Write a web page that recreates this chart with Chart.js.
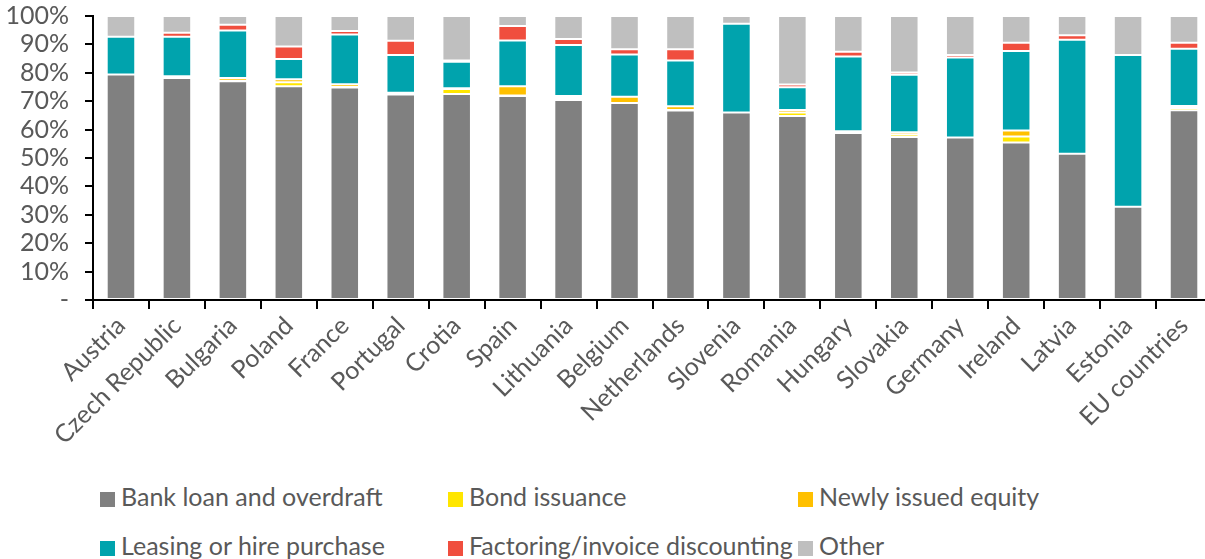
<!DOCTYPE html>
<html>
<head>
<meta charset="utf-8">
<script src="https://cdn.jsdelivr.net/npm/chart.js@4.4.0/dist/chart.umd.min.js"></script>
<style>
  html, body { margin: 0; padding: 0; background: #fff; overflow: hidden; }
  #wrap { position: absolute; left: 0; top: -15px; width: 1212px; height: 470px; }
  .legend { position: absolute; font-family: Lato, "Open Sans", sans-serif; font-size: 25px; color: #595959; white-space: nowrap; line-height: 30px; }
  .legend span.box { display: inline-block; width: 15px; height: 15px; margin-right: 6px; vertical-align: -1px; }
</style>
</head>
<body>
<div id="wrap"><canvas id="chart"></canvas></div>
<div id="legend"></div>
<script>
/* ── Datos ────────────────────────────────────── */
const countries = ["Austria", "Czech Republic", "Bulgaria", "Poland", "France", "Portugal", "Crotia", "Spain",
  "Lithuania", "Belgium", "Netherlands", "Slovenia", "Romania", "Hungary", "Slovakia", "Germany",
  "Ireland", "Latvia", "Estonia", "EU countries"];

const bankLoan  = [79.4, 78.2, 77.0, 75.3, 74.8, 72.4, 72.5, 71.8, 70.4, 69.4, 66.7, 66.0, 64.8, 58.8, 57.4, 57.2, 55.5, 51.5, 32.8, 66.8];
const bond      = [0.0, 0.3, 0.2, 1.4, 0.2, 0.3, 1.8, 0.2, 0.7, 0.0, 0.2, 0.0, 1.2, 0.0, 0.9, 0.0, 2.1, 0.0, 0.0, 0.8];
const equity    = [0.0, 0.3, 1.0, 1.0, 1.0, 0.3, 0.3, 3.3, 0.7, 2.2, 1.3, 0.0, 0.9, 0.6, 0.8, 0.0, 2.1, 0.0, 0.0, 0.7];
const leasing   = [13.3, 13.9, 16.7, 7.2, 17.5, 13.3, 9.3, 16.1, 18.0, 14.8, 16.1, 31.3, 8.0, 26.3, 20.2, 28.2, 28.0, 40.1, 53.5, 20.2];
const factoring = [0.0, 1.4, 2.0, 4.4, 1.2, 5.0, 0.4, 5.1, 2.1, 1.9, 4.0, 0.0, 1.0, 1.7, 0.8, 0.9, 2.9, 1.6, 0.0, 2.1];
const other     = [7.3, 5.9, 3.1, 10.7, 5.3, 8.7, 15.7, 3.5, 8.1, 11.7, 11.7, 2.7, 24.1, 12.6, 19.9, 13.7, 9.4, 6.8, 13.7, 9.4];

const yTicks = [0, 10, 20, 30, 40, 50, 60, 70, 80, 90, 100];

/* ── Series ───────────────────────────────────── */
const series = [
  { label: "Bank loan and overdraft",       data: bankLoan,  color: "#808080" },
  { label: "Bond issuance",                 data: bond,      color: "#FFE600" },
  { label: "Newly issued equity",           data: equity,    color: "#FFC000" },
  { label: "Leasing or hire purchase",      data: leasing,   color: "#00A3AD" },
  { label: "Factoring/invoice discounting", data: factoring, color: "#F04E3E" },
  { label: "Other",                         data: other,     color: "#BFBFBF" },
];

const FONT = "Lato, 'Open Sans', sans-serif";
const TEXT = "#595959";
const X_SCALE_H = 155;   // plot bottom ends at y=300 on the page
const PLOT_LEFT = 93;

const ctx = document.getElementById("chart").getContext("2d");
const chart = new Chart(ctx, {
  type: "bar",
  data: {
    labels: countries,
    datasets: series.map((s) => ({
      label: s.label,
      data: s.data,
      backgroundColor: s.color,
      borderColor: "rgba(255,255,255,0.25)",
      borderWidth: 1,
      borderSkipped: false,
      stack: "s",
      barPercentage: 0.51,
      categoryPercentage: 1.0,
    })),
  },
  options: {
    responsive: true,
    maintainAspectRatio: false,
    animation: false,
    layout: { padding: { top: 3, left: 0, right: 0, bottom: 0 } },
    scales: {
      x: {
        stacked: true,
        grid: { display: true, drawOnChartArea: false, drawTicks: true, tickLength: 9, color: "#000", lineWidth: 2, offset: true },
        border: { display: true, color: "#000", width: 2 },
        ticks: {
          color: TEXT,
          font: { family: FONT, size: 25 },
          minRotation: 45,
          maxRotation: 45,
          autoSkip: false,
          padding: 2,
        },
        afterFit: (scale) => { scale.height = X_SCALE_H; },
      },
      y: {
        stacked: true,
        min: 0,
        max: 100,
        afterBuildTicks: (scale) => { scale.ticks = yTicks.map((v) => ({ value: v })); },
        grid: { display: true, drawOnChartArea: false, drawTicks: true, tickLength: 8, color: "#000", lineWidth: 2 },
        border: { display: true, color: "#000", width: 2 },
        ticks: {
          color: TEXT,
          font: { family: FONT, size: 25 },
          padding: 16,
          autoSkip: false,
          callback: (v) => (v === 0 ? "-" : v + "%"),
        },
        afterFit: (scale) => { scale.width = PLOT_LEFT; },
      },
    },
    plugins: {
      legend: { display: false },
      tooltip: { enabled: false },
    },
  },
});

/* ── Leyenda ──────────────────────────────────── */
const legendCols = [100, 448, 798];
const legendRows = [481, 530];
const legendEl = document.getElementById("legend");
series.forEach((s, i) => {
  const item = document.createElement("div");
  item.className = "legend";
  item.style.left = legendCols[i % 3] + "px";
  item.style.top = legendRows[Math.floor(i / 3)] + "px";
  item.innerHTML = `<span class="box" style="background:${s.color}"></span>${s.label}`;
  legendEl.appendChild(item);
});
</script>
</body>
</html>
